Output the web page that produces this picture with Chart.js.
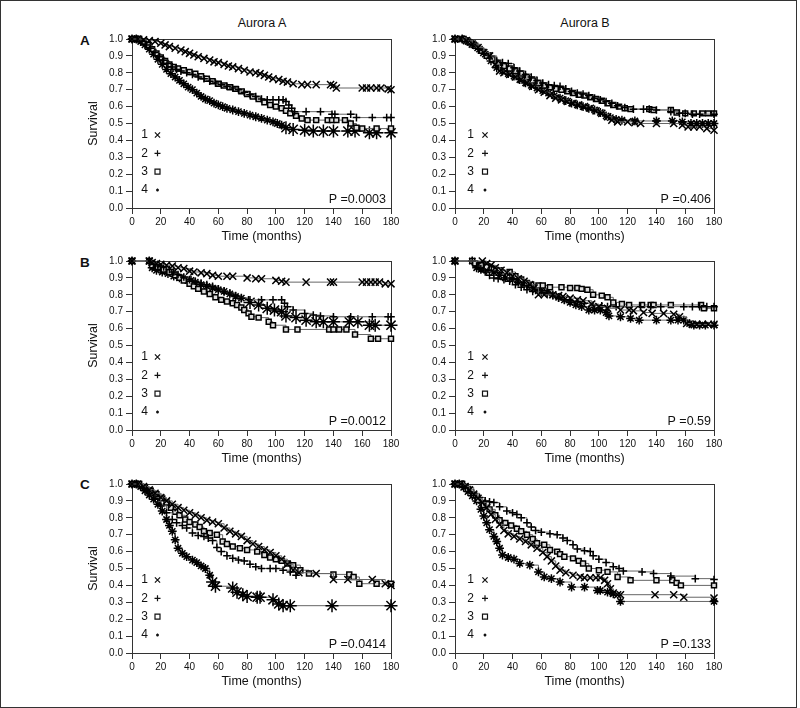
<!DOCTYPE html>
<html lang="en">
<head>
<meta charset="UTF-8" />
<title>Aurora A / Aurora B survival</title>
<script src="https://cdn.jsdelivr.net/npm/chart.js@4.4.1/dist/chart.umd.min.js"></script>
<style>
  body { margin: 0; background: #fff; font-family: Arial, "Liberation Sans", sans-serif; }
  #fig { position: relative; width: 800px; height: 708px; overflow: hidden; background: #fff; }
  #frame { position: absolute; left: 0; top: 0; width: 797px; height: 708px; box-sizing: border-box; border: 1.5px solid #333; }
  #fig canvas { position: absolute; }
  .col-title { position: absolute; top: 17px; width: 200px; text-align: center; font-size: 12.5px; line-height: 1; color: #111; }
  .row-tag { position: absolute; left: 80px; font-size: 13.5px; font-weight: bold; line-height: 1; color: #111; }
</style>
</head>
<body>
<div id="fig">
  <div id="frame"></div>
  <div class="col-title" style="left:162px">Aurora A</div>
  <div class="col-title" style="left:485px">Aurora B</div>
  <div class="row-tag" style="top:34px">A</div>
  <div class="row-tag" style="top:256px">B</div>
  <div class="row-tag" style="top:478px">C</div>

  <canvas id="rowA_aurA" width="340" height="218" style="left:70px;top:30px"></canvas>
  <canvas id="rowA_aurB" width="340" height="218" style="left:393px;top:30px"></canvas>
  <canvas id="rowB_aurA" width="340" height="218" style="left:70px;top:252px"></canvas>
  <canvas id="rowB_aurB" width="340" height="218" style="left:393px;top:252px"></canvas>
  <canvas id="rowC_aurA" width="340" height="218" style="left:70px;top:475px"></canvas>
  <canvas id="rowC_aurB" width="340" height="218" style="left:393px;top:475px"></canvas>
</div>

<script>
  // axis ticks
  const timeTicks = [0, 20, 40, 60, 80, 100, 120, 140, 160, 180];
  const survTicks = [0, 0.1, 0.2, 0.3, 0.4, 0.5, 0.6, 0.7, 0.8, 0.9, 1.0];
  const groupLabels = ['1', '2', '3', '4'];
  const pTexts = ['P =0.0003', 'P =0.406', 'P =0.0012', 'P =0.59', 'P =0.0414', 'P =0.133'];

  // [time in months, survival], group 1..4
  const rowA_aurA_g1 = [[0,1],[4,1],[8,0.995],[12,0.99],[16,0.985],[20,0.975],[23,0.965],[26,0.955],[30,0.945],[34,0.935],[37,0.925],[40,0.915],[43,0.905],[46,0.895],[50,0.885],[54,0.875],[57,0.865],[60,0.86],[64,0.85],[67,0.84],[70,0.835],[74,0.825],[78,0.815],[82,0.805],[86,0.8],[89,0.795],[92,0.785],[95,0.775],[98,0.765],[102,0.76],[105,0.75],[108,0.745],[112,0.735],[118,0.73],[122,0.73],[128,0.73],[138,0.73],[140,0.725],[142,0.71],[160,0.71],[163,0.71],[166,0.71],[170,0.71],[173,0.71],[178,0.705],[180,0.7]];
  const rowA_aurA_g2 = [[0,1],[4,1],[7,0.985],[10,0.965],[13,0.945],[16,0.92],[19,0.895],[22,0.875],[25,0.855],[28,0.835],[31,0.82],[34,0.81],[38,0.8],[42,0.79],[46,0.775],[50,0.765],[54,0.75],[58,0.74],[62,0.73],[66,0.72],[70,0.71],[74,0.7],[78,0.685],[82,0.67],[86,0.66],[90,0.645],[94,0.64],[98,0.64],[102,0.64],[105,0.64],[107,0.63],[109,0.61],[111,0.59],[113,0.57],[121,0.57],[131,0.57],[139,0.555],[141,0.555],[152,0.555],[156,0.535],[167,0.535],[177,0.535],[180,0.535]];
  const rowA_aurA_g3 = [[0,1],[5,1],[8,0.985],[11,0.965],[14,0.94],[17,0.915],[20,0.89],[23,0.87],[26,0.85],[29,0.835],[32,0.825],[36,0.815],[40,0.805],[44,0.795],[48,0.78],[52,0.765],[56,0.75],[60,0.735],[64,0.725],[68,0.715],[72,0.705],[76,0.69],[80,0.675],[84,0.66],[88,0.645],[92,0.625],[96,0.61],[100,0.6],[104,0.59],[107,0.575],[110,0.56],[114,0.545],[118,0.53],[122,0.52],[128,0.52],[136,0.52],[139,0.52],[142,0.52],[148,0.52],[152,0.5],[156,0.475],[160,0.47],[170,0.47],[180,0.47]];
  const rowA_aurA_g4 = [[0,1],[3,1],[6,0.985],[9,0.965],[12,0.94],[15,0.91],[18,0.88],[21,0.85],[24,0.82],[27,0.795],[30,0.775],[33,0.755],[36,0.735],[39,0.715],[42,0.7],[45,0.68],[48,0.66],[51,0.645],[54,0.635],[57,0.62],[60,0.61],[63,0.6],[66,0.59],[70,0.58],[74,0.57],[78,0.56],[82,0.55],[86,0.54],[90,0.53],[94,0.52],[98,0.51],[101,0.5],[104,0.49],[107,0.475],[112,0.465],[120,0.46],[126,0.455],[133,0.455],[140,0.455],[150,0.455],[155,0.455],[165,0.445],[170,0.445],[180,0.445]];

  const rowA_aurB_g1 = [[0,1],[4,1],[8,0.99],[12,0.97],[16,0.95],[20,0.92],[24,0.9],[28,0.85],[31,0.81],[34,0.8],[38,0.79],[42,0.775],[46,0.76],[50,0.74],[54,0.72],[58,0.7],[62,0.685],[66,0.665],[70,0.65],[74,0.64],[78,0.63],[82,0.62],[86,0.61],[90,0.6],[94,0.59],[98,0.575],[102,0.56],[106,0.54],[109,0.52],[113,0.51],[120,0.51],[125,0.505],[129,0.5],[140,0.5],[152,0.5],[158,0.49],[162,0.48],[166,0.48],[170,0.48],[175,0.47],[180,0.46]];
  const rowA_aurB_g2 = [[0,1],[5,1],[9,0.99],[13,0.97],[17,0.94],[21,0.92],[25,0.9],[29,0.87],[33,0.86],[37,0.855],[41,0.83],[45,0.81],[49,0.79],[53,0.775],[57,0.755],[61,0.74],[65,0.73],[69,0.725],[73,0.72],[77,0.705],[81,0.69],[85,0.68],[89,0.675],[93,0.665],[97,0.65],[101,0.64],[105,0.63],[109,0.62],[113,0.605],[118,0.595],[124,0.585],[131,0.585],[135,0.585],[140,0.58],[150,0.57],[156,0.56],[160,0.56],[165,0.555],[170,0.555],[180,0.555]];
  const rowA_aurB_g3 = [[0,1],[6,1],[10,0.98],[14,0.96],[18,0.93],[22,0.9],[26,0.88],[30,0.86],[34,0.84],[38,0.825],[42,0.81],[46,0.795],[50,0.775],[54,0.755],[58,0.74],[62,0.725],[66,0.715],[70,0.705],[74,0.7],[78,0.69],[82,0.68],[86,0.67],[90,0.665],[94,0.655],[98,0.645],[102,0.635],[106,0.62],[110,0.61],[114,0.6],[118,0.59],[122,0.585],[135,0.585],[138,0.58],[150,0.58],[154,0.565],[160,0.56],[166,0.56],[172,0.56],[176,0.56],[180,0.56]];
  const rowA_aurB_g4 = [[0,1],[5,1],[9,0.985],[13,0.965],[17,0.94],[21,0.91],[25,0.87],[29,0.83],[33,0.81],[37,0.795],[41,0.78],[45,0.76],[49,0.74],[53,0.725],[57,0.71],[61,0.695],[65,0.68],[69,0.665],[73,0.65],[77,0.635],[81,0.62],[85,0.61],[89,0.6],[93,0.59],[97,0.58],[101,0.565],[105,0.545],[108,0.535],[112,0.525],[116,0.52],[125,0.515],[140,0.515],[151,0.515],[158,0.51],[164,0.5],[168,0.5],[172,0.5],[176,0.5],[180,0.5]];

  const rowB_aurA_g1 = [[0,1],[12,1],[14,0.99],[17,0.985],[20,0.98],[24,0.975],[28,0.97],[32,0.96],[36,0.955],[40,0.94],[43,0.935],[48,0.93],[52,0.925],[56,0.915],[60,0.91],[66,0.91],[70,0.91],[80,0.9],[86,0.895],[90,0.895],[100,0.885],[104,0.88],[107,0.875],[121,0.875],[138,0.875],[140,0.875],[160,0.875],[163,0.875],[166,0.875],[169,0.875],[172,0.875],[176,0.865],[180,0.865]];
  const rowB_aurA_g2 = [[0,1],[12,1],[15,0.98],[18,0.97],[22,0.965],[26,0.95],[29,0.935],[32,0.92],[36,0.905],[40,0.89],[44,0.88],[48,0.87],[52,0.86],[56,0.85],[60,0.835],[64,0.82],[68,0.81],[72,0.795],[76,0.78],[81,0.77],[90,0.77],[98,0.77],[104,0.77],[106,0.75],[108,0.73],[112,0.71],[120,0.69],[126,0.68],[131,0.675],[140,0.67],[152,0.67],[167,0.67],[178,0.67],[180,0.67]];
  const rowB_aurA_g3 = [[0,1],[12,1],[14,0.975],[18,0.965],[22,0.95],[26,0.935],[30,0.915],[33,0.9],[36,0.885],[40,0.865],[43,0.85],[46,0.835],[50,0.82],[54,0.805],[58,0.785],[62,0.77],[66,0.76],[70,0.75],[73,0.74],[76,0.725],[78,0.71],[81,0.69],[83,0.67],[88,0.665],[95,0.64],[98,0.62],[107,0.595],[115,0.595],[137,0.595],[140,0.595],[144,0.595],[149,0.595],[155,0.565],[166,0.54],[171,0.54],[180,0.54]];
  const rowB_aurA_g4 = [[0,1],[12,1],[14,0.96],[17,0.945],[21,0.935],[25,0.925],[29,0.91],[33,0.9],[37,0.89],[41,0.885],[44,0.875],[48,0.86],[52,0.85],[56,0.84],[60,0.83],[64,0.82],[68,0.805],[72,0.79],[76,0.78],[82,0.755],[88,0.74],[94,0.72],[99,0.71],[104,0.7],[107,0.675],[114,0.665],[121,0.65],[128,0.64],[133,0.64],[140,0.64],[151,0.64],[157,0.64],[165,0.62],[169,0.62],[180,0.62]];

  const rowB_aurB_g1 = [[0,1],[19,1],[22,0.985],[25,0.975],[28,0.96],[32,0.945],[36,0.93],[40,0.91],[44,0.895],[48,0.88],[52,0.86],[55,0.84],[58,0.8],[62,0.8],[68,0.8],[72,0.795],[75,0.79],[80,0.78],[85,0.77],[89,0.765],[95,0.745],[100,0.73],[106,0.72],[115,0.71],[121,0.71],[124,0.705],[131,0.695],[137,0.69],[145,0.69],[152,0.685],[156,0.67],[161,0.63],[165,0.625],[168,0.625],[172,0.625],[176,0.625],[180,0.625]];
  const rowB_aurB_g2 = [[0,1],[12,1],[15,0.97],[18,0.955],[21,0.935],[24,0.915],[27,0.9],[30,0.895],[34,0.89],[38,0.88],[42,0.86],[46,0.845],[50,0.83],[54,0.82],[60,0.815],[64,0.81],[68,0.795],[72,0.78],[76,0.77],[80,0.765],[85,0.76],[90,0.75],[96,0.74],[102,0.735],[106,0.73],[112,0.73],[129,0.73],[136,0.73],[143,0.73],[159,0.73],[165,0.73],[170,0.73],[175,0.73],[180,0.73]];
  const rowB_aurB_g3 = [[0,1],[12,1],[14,0.985],[18,0.975],[22,0.965],[27,0.955],[31,0.945],[38,0.935],[42,0.91],[46,0.89],[50,0.87],[53,0.86],[58,0.855],[61,0.855],[66,0.845],[74,0.845],[80,0.84],[85,0.84],[88,0.835],[92,0.83],[96,0.8],[102,0.795],[106,0.785],[110,0.755],[116,0.745],[121,0.74],[130,0.74],[136,0.74],[138,0.74],[150,0.74],[171,0.74],[173,0.72],[180,0.72]];
  const rowB_aurB_g4 = [[0,1],[12,1],[15,0.96],[18,0.95],[22,0.945],[27,0.935],[31,0.915],[35,0.9],[40,0.89],[44,0.875],[48,0.86],[52,0.85],[56,0.83],[60,0.825],[64,0.815],[68,0.8],[72,0.785],[76,0.77],[80,0.755],[84,0.74],[88,0.73],[93,0.71],[97,0.71],[101,0.71],[105,0.695],[107,0.675],[115,0.67],[122,0.66],[128,0.65],[140,0.65],[150,0.65],[155,0.65],[159,0.65],[163,0.63],[166,0.62],[170,0.62],[174,0.62],[180,0.62]];

  const rowC_aurA_g1 = [[0,1],[4,1],[8,0.985],[12,0.965],[16,0.945],[20,0.92],[24,0.9],[28,0.88],[32,0.86],[36,0.845],[40,0.83],[44,0.815],[48,0.8],[52,0.785],[56,0.775],[60,0.765],[64,0.74],[68,0.72],[72,0.705],[76,0.69],[80,0.665],[84,0.645],[88,0.63],[92,0.61],[96,0.595],[100,0.575],[104,0.555],[108,0.525],[112,0.49],[116,0.475],[128,0.47],[140,0.435],[150,0.435],[167,0.435],[176,0.41],[180,0.4]];
  const rowC_aurA_g2 = [[0,1],[4,1],[8,0.975],[12,0.945],[16,0.915],[20,0.87],[24,0.83],[28,0.79],[31,0.77],[35,0.755],[38,0.74],[42,0.71],[46,0.695],[50,0.69],[53,0.68],[56,0.665],[59,0.625],[62,0.6],[66,0.575],[70,0.56],[74,0.55],[78,0.545],[82,0.525],[86,0.51],[90,0.5],[96,0.5],[100,0.5],[105,0.49],[110,0.48],[114,0.46]];
  const rowC_aurA_g3 = [[0,1],[5,1],[9,0.98],[13,0.96],[17,0.94],[21,0.915],[24,0.89],[27,0.86],[30,0.835],[33,0.815],[37,0.79],[40,0.775],[44,0.76],[47,0.745],[50,0.72],[54,0.71],[59,0.7],[63,0.66],[66,0.645],[70,0.63],[75,0.62],[80,0.61],[87,0.6],[92,0.58],[96,0.565],[100,0.555],[104,0.545],[108,0.53],[112,0.52],[117,0.49],[123,0.47],[140,0.465],[151,0.465],[154,0.45],[158,0.41],[170,0.41],[180,0.41]];
  const rowC_aurA_g4 = [[0,1],[3,1],[6,0.985],[9,0.96],[12,0.935],[15,0.91],[18,0.88],[21,0.84],[24,0.79],[26,0.755],[28,0.72],[30,0.67],[32,0.62],[35,0.59],[38,0.57],[42,0.55],[45,0.535],[48,0.515],[51,0.5],[54,0.46],[56,0.42],[58,0.395],[70,0.385],[73,0.36],[77,0.345],[80,0.335],[87,0.33],[89,0.33],[98,0.315],[102,0.29],[105,0.28],[110,0.28],[139,0.28],[180,0.28]];

  const rowC_aurB_g1 = [[0,1],[4,1],[7,0.985],[10,0.965],[13,0.94],[16,0.915],[19,0.89],[22,0.86],[25,0.82],[28,0.79],[31,0.76],[34,0.725],[37,0.705],[41,0.69],[45,0.675],[49,0.66],[53,0.64],[57,0.62],[61,0.595],[64,0.57],[67,0.545],[70,0.515],[73,0.49],[77,0.475],[82,0.46],[87,0.45],[90,0.445],[94,0.445],[98,0.445],[101,0.445],[104,0.43],[106,0.41],[108,0.38],[110,0.355],[113,0.345],[115,0.345],[139,0.345],[152,0.345],[159,0.33],[180,0.325]];
  const rowC_aurB_g2 = [[0,1],[5,1],[9,0.98],[13,0.945],[17,0.92],[21,0.9],[24,0.895],[27,0.89],[31,0.865],[36,0.84],[40,0.83],[43,0.82],[46,0.8],[50,0.77],[53,0.745],[56,0.725],[60,0.715],[66,0.705],[71,0.7],[75,0.68],[78,0.665],[82,0.64],[85,0.615],[90,0.605],[94,0.6],[96,0.575],[100,0.555],[105,0.535],[110,0.51],[114,0.5],[117,0.485],[130,0.48],[138,0.47],[150,0.455],[167,0.44],[180,0.435]];
  const rowC_aurB_g3 = [[0,1],[5,1],[9,0.97],[13,0.935],[16,0.905],[20,0.875],[24,0.85],[28,0.815],[31,0.785],[35,0.77],[39,0.755],[43,0.735],[46,0.72],[50,0.7],[54,0.675],[57,0.65],[62,0.64],[66,0.61],[71,0.6],[73,0.585],[76,0.57],[82,0.56],[86,0.545],[89,0.53],[93,0.5],[100,0.49],[106,0.48],[113,0.45],[122,0.43],[140,0.43],[151,0.43],[154,0.415],[157,0.4],[180,0.4]];
  const rowC_aurB_g4 = [[0,1],[3,1],[6,0.98],[9,0.955],[12,0.93],[15,0.9],[18,0.85],[20,0.81],[22,0.77],[24,0.73],[27,0.69],[29,0.66],[31,0.62],[33,0.58],[37,0.565],[41,0.555],[45,0.53],[52,0.52],[58,0.48],[62,0.45],[67,0.44],[73,0.42],[81,0.39],[90,0.39],[99,0.37],[101,0.37],[106,0.36],[110,0.35],[115,0.305],[180,0.305]];

  const FONT = 'Arial, "Liberation Sans", Helvetica, sans-serif';
  const markStyles = ['crossRot', 'cross', 'rect', 'star'];
  const markRadius = [5, 3.8, 3.5, 4.4];

  function drawMark(ctx, kind, x, y) {
    ctx.beginPath();
    if (kind === 'crossRot') {
      ctx.moveTo(x - 2.6, y - 2.6); ctx.lineTo(x + 2.6, y + 2.6);
      ctx.moveTo(x + 2.6, y - 2.6); ctx.lineTo(x - 2.6, y + 2.6);
    } else if (kind === 'cross') {
      ctx.moveTo(x - 3, y); ctx.lineTo(x + 3, y);
      ctx.moveTo(x, y - 3); ctx.lineTo(x, y + 3);
    } else if (kind === 'rect') {
      ctx.rect(x - 2.5, y - 2.5, 5, 5);
    } else {
      ctx.moveTo(x - 1.4, y); ctx.lineTo(x + 1.4, y);
      ctx.moveTo(x, y - 1.4); ctx.lineTo(x, y + 1.4);
      ctx.moveTo(x - 1, y - 1); ctx.lineTo(x + 1, y + 1);
      ctx.moveTo(x + 1, y - 1); ctx.lineTo(x - 1, y + 1);
    }
    ctx.stroke();
  }

  // plot frame, in-plot legend and P value
  const panelDecor = {
    id: 'panelDecor',
    beforeDatasetsDraw(chart) {
      const {ctx, chartArea: a} = chart;
      ctx.save();
      ctx.strokeStyle = '#333';
      ctx.lineWidth = 1;
      ctx.strokeRect(Math.round(a.left) + 0.5, Math.round(a.top) + 0.5, Math.round(a.width), Math.round(a.height));
      ctx.restore();
    },
    afterDatasetsDraw(chart, args, opts) {
      const {ctx, chartArea: a} = chart;
      ctx.save();
      ctx.fillStyle = '#111';
      ctx.strokeStyle = '#111';
      ctx.lineWidth = 1.2;
      ctx.font = '12px ' + FONT;
      ctx.textBaseline = 'middle';
      const rows = [96, 114.3, 132.7, 151];
      groupLabels.forEach((lab, i) => {
        ctx.textAlign = 'center';
        ctx.fillText(lab, a.left + opts.numX, a.top + rows[i]);
        drawMark(ctx, markStyles[i], a.left + opts.symX, a.top + rows[i]);
      });
      ctx.font = '12.5px ' + FONT;
      ctx.textAlign = 'right';
      ctx.fillText(opts.p, a.right - opts.pRight, a.bottom - 8);
      ctx.restore();
    }
  };

  function makeDataset(points, g, bigStarFrom) {
    return {
      data: points.map(p => ({x: p[0], y: p[1]})),
      stepped: true,
      borderColor: '#666',
      borderWidth: 1,
      fill: false,
      pointStyle: markStyles[g],
      pointRadius: c => (g === 3 && c.raw && c.raw.x >= bigStarFrom) ? 6.5 : markRadius[g],
      pointBorderColor: '#000',
      pointBackgroundColor: g === 2 ? '#ddd' : '#000',
      pointBorderWidth: 1.5,
      clip: false
    };
  }

  function makePanel(id, groups, pText, leftCol, bigStarFrom) {
    const ctx = document.getElementById(id).getContext('2d');
    new Chart(ctx, {
      type: 'line',
      data: { datasets: groups.map((g, i) => makeDataset(g, i, bigStarFrom)) },
      plugins: [panelDecor],
      options: {
        responsive: false,
        animation: false,
        devicePixelRatio: 1,
        events: [],
        layout: { padding: { left: 12, right: 19, top: 9, bottom: 0 } },
        plugins: {
          legend: { display: false },
          tooltip: { enabled: false },
          panelDecor: { p: pText, numX: leftCol ? 12.5 : 15.5, symX: leftCol ? 25.5 : 30, pRight: leftCol ? 5 : 3 }
        },
        scales: {
          x: {
            type: 'linear', min: 0, max: 180,
            afterBuildTicks: s => { s.ticks = timeTicks.map(v => ({value: v})); },
            afterFit: s => { s.height = 40; },
            border: { display: false },
            grid: { drawOnChartArea: false, drawTicks: true, tickLength: 6, color: '#333' },
            ticks: { color: '#111', font: { family: FONT, size: 10 }, padding: 2, maxRotation: 0, autoSkip: false },
            title: { display: true, text: 'Time (months)', color: '#111', font: { family: FONT, size: 12.5 }, padding: { top: 0, bottom: 4 } }
          },
          y: {
            type: 'linear', min: 0, max: 1,
            afterBuildTicks: s => { s.ticks = survTicks.map(v => ({value: v})); },
            afterFit: s => { s.width = 50; },
            border: { display: false },
            grid: { drawOnChartArea: false, drawTicks: true, tickLength: 6, color: '#333' },
            ticks: { color: '#111', font: { family: FONT, size: 10 }, padding: 3, autoSkip: false, callback: v => v.toFixed(1) },
            title: { display: leftCol, text: 'Survival', color: '#111', font: { family: FONT, size: 12.5 }, padding: { top: 4, bottom: 0 } }
          }
        }
      }
    });
  }

  makePanel('rowA_aurA', [rowA_aurA_g1, rowA_aurA_g2, rowA_aurA_g3, rowA_aurA_g4], pTexts[0], true, 105);
  makePanel('rowA_aurB', [rowA_aurB_g1, rowA_aurB_g2, rowA_aurB_g3, rowA_aurB_g4], pTexts[1], false, 999);
  makePanel('rowB_aurA', [rowB_aurA_g1, rowB_aurA_g2, rowB_aurA_g3, rowB_aurA_g4], pTexts[2], true, 80);
  makePanel('rowB_aurB', [rowB_aurB_g1, rowB_aurB_g2, rowB_aurB_g3, rowB_aurB_g4], pTexts[3], false, 999);
  makePanel('rowC_aurA', [rowC_aurA_g1, rowC_aurA_g2, rowC_aurA_g3, rowC_aurA_g4], pTexts[4], true, 55);
  makePanel('rowC_aurB', [rowC_aurB_g1, rowC_aurB_g2, rowC_aurB_g3, rowC_aurB_g4], pTexts[5], false, 999);
</script>
</body>
</html>
